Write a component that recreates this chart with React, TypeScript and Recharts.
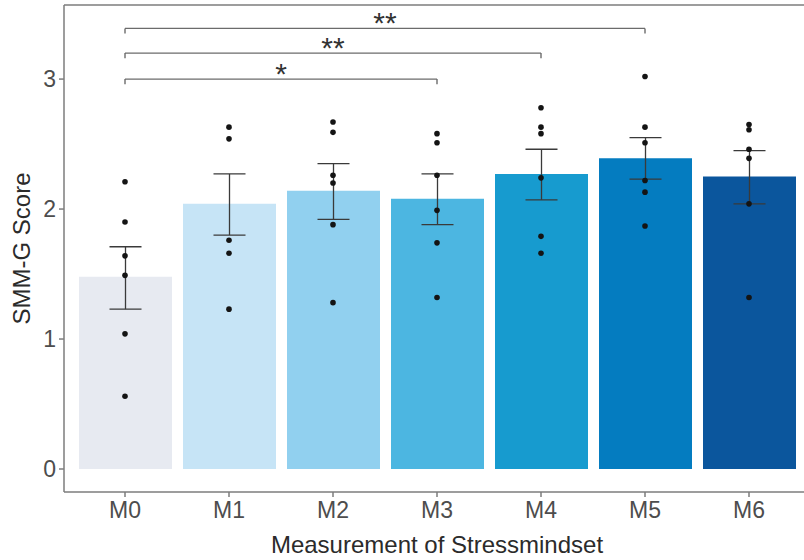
import { ComposedChart, Bar, Line, XAxis, YAxis, ErrorBar, Cell, ReferenceLine } from 'recharts';

const CATEGORIES = ['M0', 'M1', 'M2', 'M3', 'M4', 'M5', 'M6'];
const MEANS = [1.48, 2.04, 2.14, 2.08, 2.27, 2.39, 2.25];
const CI_LOW = [1.23, 1.8, 1.92, 1.88, 2.07, 2.23, 2.04];
const CI_HIGH = [1.71, 2.27, 2.35, 2.27, 2.46, 2.55, 2.45];
// individual scores per measurement
const POINTS = [
  [2.21, 1.9, 1.64, 1.49, 1.04, 0.56],
  [2.63, 2.54, 1.76, 1.66, 1.23],
  [2.67, 2.59, 2.26, 2.2, 1.88, 1.28],
  [2.58, 2.51, 2.26, 1.99, 1.74, 1.32],
  [2.78, 2.63, 2.58, 2.24, 1.79, 1.66],
  [3.02, 2.63, 2.51, 2.22, 2.13, 1.87],
  [2.65, 2.61, 2.46, 2.39, 2.04, 1.32],
];
const COLORS = ['#e7eaf1', '#c6e4f6', '#91d0ef', '#4cb6e1', '#179bcf', '#047cc0', '#0b569d'];

const Y_TICKS = [0, 1, 2, 3];
const Y_DOMAIN = [-0.177, 3.57];

// significance brackets
const BRACKET_FROM = ['M0', 'M0', 'M0'];
const BRACKET_TO = ['M3', 'M4', 'M5'];
const BRACKET_Y = [3.0, 3.2, 3.39];
const BRACKET_LABELS = ['*', '**', '**'];
const BRACKET_TICK = 0.04;

const POINT_KEYS = ['p0', 'p1', 'p2', 'p3', 'p4', 'p5'];

const data = CATEGORIES.map((cat, i) => {
  const row: any = {
    cat,
    mean: MEANS[i],
    err: [MEANS[i] - CI_LOW[i], CI_HIGH[i] - MEANS[i]],
  };
  POINTS[i].forEach((v, j) => (row[POINT_KEYS[j]] = v));
  return row;
});

const FONT = '"Liberation Sans", Arial, sans-serif';
const FRAME = '#7d7d7d';

const YTitle = ({ viewBox }: any) => {
  const cx = viewBox.x + 13;
  const cy = viewBox.y + viewBox.height / 2;
  return (
    <text x={cx} y={cy} transform={`rotate(-90, ${cx}, ${cy})`} textAnchor='middle' dominantBaseline='central'
      fontSize={24} fill='#2b2b2b' fontFamily={FONT}>SMM-G Score</text>
  );
};

export default function App() {
  return (
    <div style={{ position: 'absolute', left: 0, top: 0, width: 804, height: 560, overflow: 'hidden', background: '#fff' }}>
      <ComposedChart width={812} height={560} data={data} margin={{ top: 4, right: 2, bottom: 0, left: 8 }}
        style={{ fontFamily: FONT }}>
        <XAxis dataKey='cat' height={68} padding={{ left: 9, right: 9 }} axisLine={{ stroke: FRAME, strokeWidth: 1.5 }}
          tickLine={{ stroke: FRAME, strokeWidth: 1.5 }} tickSize={5} tickMargin={5}
          tick={{ fontSize: 23, fill: '#4d4d4d', fontFamily: FONT }}
          label={{ value: 'Measurement of Stressmindset', position: 'insideBottom', offset: 7, fontSize: 24, fill: '#2b2b2b', fontFamily: FONT }} />
        <XAxis xAxisId='top' orientation='top' dataKey='cat' height={1} padding={{ left: 9, right: 9 }}
          tick={false} tickLine={false} axisLine={{ stroke: FRAME, strokeWidth: 1.5 }} />
        <YAxis width={56} domain={Y_DOMAIN} ticks={Y_TICKS} allowDataOverflow axisLine={{ stroke: FRAME, strokeWidth: 1.5 }}
          tickLine={{ stroke: FRAME, strokeWidth: 1.5 }} tickSize={5} tickMargin={3}
          tick={{ fontSize: 23, fill: '#4d4d4d', fontFamily: FONT }}
          label={<YTitle />} />
        <Bar dataKey='mean' barSize={93} isAnimationActive={false}>
          {data.map((_, i) => (<Cell key={i} fill={COLORS[i]} />))}
          <ErrorBar dataKey='err' width={16} stroke='#3a3a3a' strokeWidth={1.3} direction='y' />
        </Bar>
        {POINT_KEYS.map(k => (
          <Line key={k} dataKey={k} stroke='none' isAnimationActive={false} legendType='none'
            dot={{ r: 2.8, fill: '#141414', stroke: 'none' }} activeDot={false} />
        ))}
        {BRACKET_Y.map((y, i) => (
          <ReferenceLine key={'h' + i} segment={[{ x: BRACKET_FROM[i], y }, { x: BRACKET_TO[i], y }]}
            stroke='#6b6b6b' strokeWidth={1.4}
            label={{ value: BRACKET_LABELS[i], position: 'top', offset: -5, fontSize: 30, fill: '#333', fontFamily: FONT }} />
        ))}
        {BRACKET_Y.map((y, i) => (
          <ReferenceLine key={'l' + i} segment={[{ x: BRACKET_FROM[i], y }, { x: BRACKET_FROM[i], y: y - BRACKET_TICK }]}
            stroke='#6b6b6b' strokeWidth={1.4} />
        ))}
        {BRACKET_Y.map((y, i) => (
          <ReferenceLine key={'r' + i} segment={[{ x: BRACKET_TO[i], y }, { x: BRACKET_TO[i], y: y - BRACKET_TICK }]}
            stroke='#6b6b6b' strokeWidth={1.4} />
        ))}
      </ComposedChart>
    </div>
  );
}
